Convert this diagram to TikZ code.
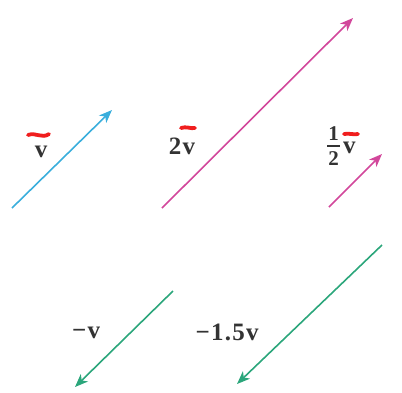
\documentclass[tikz,border=0pt]{standalone}
\usepackage{fontspec}
\setmainfont{Liberation Serif}
\usepackage{tikz}
\usepackage{xcolor}
\usetikzlibrary{arrows.meta}
\definecolor{vcyan}{HTML}{3AAEDC}
\definecolor{vpink}{HTML}{D2479B}
\definecolor{vgreen}{HTML}{2BA67B}
\definecolor{mark}{HTML}{F01E1E}
% one half, stacked
\newcommand{\halffrac}{\raisebox{-12pt}{\vbox{\fontsize{21}{22}\selectfont
  \hbox to 13pt{\hss 1\hss}\kern4.5pt\hrule height 1.2pt\kern4.5pt\hbox to 13pt{\hss 2\hss}}}}
\tikzset{
  % A vector arrow
  vec/.style={-{Stealth[length=4.6mm,width=3.6mm,inset=1.3mm]}, draw=#1, line width=1.6pt},
  % A vector name
  vlbl/.style={font=\fontsize{25}{28}\selectfont\bfseries\addfontfeature{LetterSpace=5}, inner sep=0pt, text=black!80},
  % Red pen stroke over a name
  pen/.style={draw=mark, line width=3.8pt, line cap=round},
}
\begin{document}
\begin{tikzpicture}[x=1pt,y=-1pt]
\useasboundingbox (0,0) rectangle (402,392);

% end points
\coordinate (v0) at (12,208);
\coordinate (v1) at (112,110);
\coordinate (tv0) at (162,208);
\coordinate (tv1) at (353,18);
\coordinate (hv0) at (329,207);
\coordinate (hv1) at (382,154);
\coordinate (nv0) at (173,291);
\coordinate (nv1) at (75,387);
\coordinate (mv0) at (382,245);
\coordinate (mv1) at (237,384);

% vectors
\draw[vec=vcyan] (v0) -- (v1);
\draw[vec=vpink] (tv0) -- (tv1);
\draw[vec=vpink] (hv0) -- (hv1);
\draw[vec=vgreen] (nv0) -- (nv1);
\draw[vec=vgreen] (mv0) -- (mv1);

% names
\node[vlbl] (vname) at (41,152) {v};
\node[vlbl] (twoname) at (182,146) {2v};
\node[vlbl, anchor=base west] (halfname) at (327,153) {\halffrac\kern3pt v};
\node[vlbl] (negname) at (86,333) {−v};
\node[vlbl] (onefivename) at (227,332) {−1.5v};

% pen strokes
\draw[pen] (28,135) .. controls (36,132) and (42,139) .. (49,134);
\draw[pen] (181,128) .. controls (186,126) and (191,129) .. (195,128);
\draw[pen] (344,134) .. controls (349,133) and (354,135) .. (358,134);

\end{tikzpicture}
\end{document}
